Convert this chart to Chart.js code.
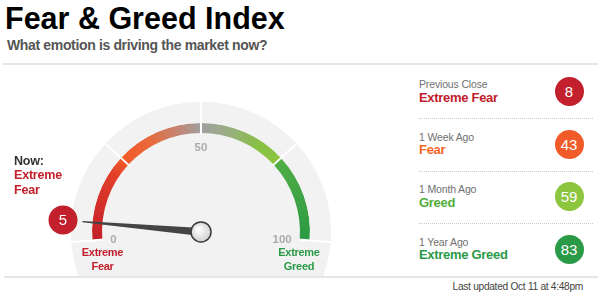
<!DOCTYPE html>
<html>
<head>
<meta charset="utf-8">
<script src="https://cdn.jsdelivr.net/npm/chart.js"></script>
<style>
  body { margin: 0; background: #fff; font-family: "Liberation Sans", Arial, sans-serif; }
  #wrap { position: relative; width: 601px; height: 297px; overflow: hidden; }
  .abs { position: absolute; white-space: nowrap; }
  #title { left: 5px; top: 3.4px; font-size: 30.5px; line-height: 30px; font-weight: bold; color: #000; }
  #sub { left: 7px; top: 37px; font-size: 14px; line-height: 16px; font-weight: bold; color: #555; letter-spacing: -0.35px; }
  .rule { position: absolute; height: 2px; background: #e6e6e6; }
  #gauge { position: absolute; left: 0; top: 68px; }
  #now { left: 14px; top: 153.5px; font-size: 12.5px; line-height: 14.5px; font-weight: bold; color: #333; letter-spacing: -0.2px; }
  .zoneLbl { font-size: 11px; line-height: 13.5px; font-weight: bold; text-align: center; width: 60px; letter-spacing: -0.3px; }
  .hLabel { left: 419px; font-size: 10.5px; line-height: 12px; color: #707070; letter-spacing: -0.15px; }
  .hRating { left: 419px; font-size: 13px; line-height: 14px; font-weight: bold; letter-spacing: -0.3px; }
  .hDot { position: absolute; width: 29px; height: 29px; border-radius: 50%; color: #fff; font-size: 15px; line-height: 29px; text-align: center; }
  .dots { position: absolute; left: 419px; width: 174px; border-top: 1px dotted #c8c8c8; }
  #updated { right: 18px; top: 280.6px; font-size: 10.2px; line-height: 12px; color: #444; letter-spacing: -0.3px; }
</style>
</head>
<body>
<div id="wrap">
  <div class="abs" id="title">Fear &amp; Greed Index</div>
  <div class="abs" id="sub">What emotion is driving the market now?</div>
  <div class="rule" style="left:3px; top:63px; width:595px;"></div>
  <canvas id="gauge" width="402" height="208" style="width:402px;height:208px;"></canvas>
  <div class="rule" style="left:4px; top:276px; width:594px;"></div>
  <div class="abs" id="now"></div>
  <div id="extra"></div>
  <div class="abs" id="updated"></div>
</div>
<script>
// gauge zones and current reading
const zoneNames = ['Extreme Fear', 'Fear', 'Greed', 'Extreme Greed'];
const zoneSizes = [25, 25, 25, 25];
const tickValues = [0, 50, 100];
const nowValue = 5;

// history panel
const historyLabels = ['Previous Close', '1 Week Ago', '1 Month Ago', '1 Year Ago'];
const historyValues = [8, 43, 59, 83];
const historyRatings = ['Extreme Fear', 'Fear', 'Greed', 'Extreme Greed'];
const lastUpdated = 'Last updated Oct 11 at 4:48pm';

const textColors = { 'Extreme Fear': '#c1202c', 'Fear': '#f26522', 'Greed': '#52ad3c', 'Extreme Greed': '#2a9a47' };
const dotColors = { 'Extreme Fear': '#c1202c', 'Fear': '#f15a29', 'Greed': '#8cc63f', 'Extreme Greed': '#2a9a47' };

const bandStops = [
  [0, '#c41e2a'], [0.2, '#e2402a'], [0.25, '#f05a28'], [0.34, '#e9683a'],
  [0.44, '#c08878'], [0.5, '#a0a0a0'], [0.56, '#9cab8c'], [0.68, '#88c043'],
  [0.75, '#8dc63f'], [0.75, '#52ae45'], [1, '#2a9a44']
];

function zoneOf(v) {
  let acc = 0;
  for (let i = 0; i < zoneSizes.length; i++) {
    acc += zoneSizes[i];
    if (v < acc) return zoneNames[i];
  }
  return zoneNames[zoneNames.length - 1];
}

function bandColor(context) {
  const chart = context.chart;
  const area = chart.chartArea;
  if (!area) return '#ccc';
  const ctrl = chart.getDatasetMeta(context.datasetIndex).controller;
  const cx = (area.left + area.right) / 2 + (ctrl.offsetX || 0);
  const cy = (area.top + area.bottom) / 2 + (ctrl.offsetY || 0);
  const start = (chart.options.rotation - 90) * Math.PI / 180;
  const span = chart.options.circumference / 360;
  const g = chart.ctx.createConicGradient(start, cx, cy);
  bandStops.forEach(s => g.addColorStop(Math.min(s[0] * span, 1), s[1]));
  return g;
}

const gaugeDecor = {
  id: 'gaugeDecor',
  beforeDatasetsDraw(chart) {
    const ring = chart.getDatasetMeta(0).data[0];
    const ctx = chart.ctx;
    ctx.save();
    ctx.fillStyle = '#f2f2f2';
    ctx.beginPath();
    ctx.arc(ring.x, ring.y, ring.outerRadius, 0, Math.PI * 2);
    ctx.fill();
    ctx.restore();
  },
  afterDatasetsDraw(chart) {
    const ctx = chart.ctx;
    const ring = chart.getDatasetMeta(0).data;
    const band = chart.getDatasetMeta(1).data;
    const cx = ring[0].x, cy = ring[0].y;
    const rOut = ring[0].outerRadius, rIn = band[0].innerRadius;
    const a0 = band[0].startAngle, a1 = band[band.length - 1].endAngle;
    const edges = [a0].concat(band.map(a => a.endAngle));
    ctx.save();

    // white zone dividers
    ctx.strokeStyle = '#fff';
    ctx.lineWidth = 2;
    edges.forEach(a => {
      ctx.beginPath();
      ctx.moveTo(cx + Math.cos(a) * (rIn - 1), cy + Math.sin(a) * (rIn - 1));
      ctx.lineTo(cx + Math.cos(a) * (rOut + 1), cy + Math.sin(a) * (rOut + 1));
      ctx.stroke();
    });

    // tick labels
    ctx.font = 'bold 11.5px "Liberation Sans", Arial, sans-serif';
    ctx.fillStyle = '#acacac';
    ctx.textBaseline = 'middle';
    tickValues.forEach(v => {
      const a = a0 + (a1 - a0) * v / 100;
      const c = Math.cos(a), s = Math.sin(a);
      const side = Math.abs(c) > 0.5;
      ctx.textAlign = c < -0.5 ? 'left' : (c > 0.5 ? 'right' : 'center');
      const r = side ? 91 : 84.5;
      ctx.fillText(String(v), cx + c * r, cy + s * r + (side ? 1 : 0));
    });

    // needle
    const na = chart.getDatasetMeta(2).data[0].endAngle;
    const ux = Math.cos(na), uy = Math.sin(na), px = -uy, py = ux;
    const len = 119, w0 = 4, w1 = 0.6;
    ctx.fillStyle = '#444';
    ctx.beginPath();
    ctx.moveTo(cx + px * w0, cy + py * w0);
    ctx.lineTo(cx + ux * len + px * w1, cy + uy * len + py * w1);
    ctx.lineTo(cx + ux * len - px * w1, cy + uy * len - py * w1);
    ctx.lineTo(cx - px * w0, cy - py * w0);
    ctx.closePath();
    ctx.fill();

    // pivot
    const pg = ctx.createRadialGradient(cx - 3, cy - 3, 1, cx, cy, 10);
    pg.addColorStop(0, '#ffffff');
    pg.addColorStop(1, '#d2d2d2');
    ctx.fillStyle = pg;
    ctx.strokeStyle = '#3a3a3a';
    ctx.lineWidth = 1.5;
    ctx.beginPath();
    ctx.arc(cx, cy, 10, 0, Math.PI * 2);
    ctx.fill();
    ctx.stroke();

    // value bubble
    const br = 138.5;
    const bx = cx + ux * br, by = cy + uy * br;
    ctx.fillStyle = dotColors[zoneOf(nowValue)];
    ctx.beginPath();
    ctx.arc(bx, by, 14.5, 0, Math.PI * 2);
    ctx.fill();
    ctx.fillStyle = '#fff';
    ctx.font = '15px "Liberation Sans", Arial, sans-serif';
    ctx.textAlign = 'center';
    ctx.textBaseline = 'middle';
    ctx.fillText(String(nowValue), bx, by + 1);
    ctx.restore();
  }
};

new Chart(document.getElementById('gauge').getContext('2d'), {
  type: 'doughnut',
  data: {
    labels: zoneNames,
    datasets: [
      { data: zoneSizes, backgroundColor: '#f2f2f2', borderWidth: 0, weight: 21 },
      { data: zoneSizes, backgroundColor: bandColor, borderWidth: 0, weight: 10 },
      { data: [nowValue, 100 - nowValue], backgroundColor: 'rgba(0,0,0,0)', borderWidth: 0, weight: 99 }
    ]
  },
  options: {
    responsive: false,
    animation: false,
    events: [],
    rotation: -94.5,
    circumference: 189,
    cutout: 0,
    radius: 130,
    layout: { padding: 0 },
    plugins: { legend: { display: false }, tooltip: { enabled: false } }
  },
  plugins: [gaugeDecor]
});

// "Now" text and zone end labels
const nowZone = zoneOf(nowValue);
const nowParts = nowZone.split(' ');
document.getElementById('now').innerHTML = 'Now:<br>' +
  nowParts.map(p => '<span style="color:' + textColors[nowZone] + '">' + p + '</span>').join('<br>');

const extra = document.getElementById('extra');
function addEl(cls, style, html) {
  const d = document.createElement('div');
  d.className = cls;
  d.style.cssText = style;
  d.innerHTML = html;
  extra.appendChild(d);
}
const firstZone = zoneNames[0], lastZone = zoneNames[zoneNames.length - 1];
addEl('abs zoneLbl', 'left:72.5px; top:246.4px; color:' + textColors[firstZone], firstZone.split(' ').join('<br>'));
addEl('abs zoneLbl', 'left:269px; top:246.4px; color:' + textColors[lastZone], lastZone.split(' ').join('<br>'));

// history rows
historyLabels.forEach((lbl, i) => {
  const dy = i * 52.5;
  const rating = historyRatings[i];
  addEl('abs hLabel', 'top:' + (78.4 + dy) + 'px', lbl);
  addEl('abs hRating', 'top:' + (90.5 + dy) + 'px; color:' + textColors[rating], rating);
  addEl('hDot', 'left:' + (569 - 14.5) + 'px; top:' + (91.5 + dy - 14.5) + 'px; background:' + dotColors[rating], String(historyValues[i]));
  if (i < historyLabels.length - 1) addEl('dots', 'top:' + (118 + dy) + 'px', '');
});
document.getElementById('updated').textContent = lastUpdated;
</script>
</body>
</html>
